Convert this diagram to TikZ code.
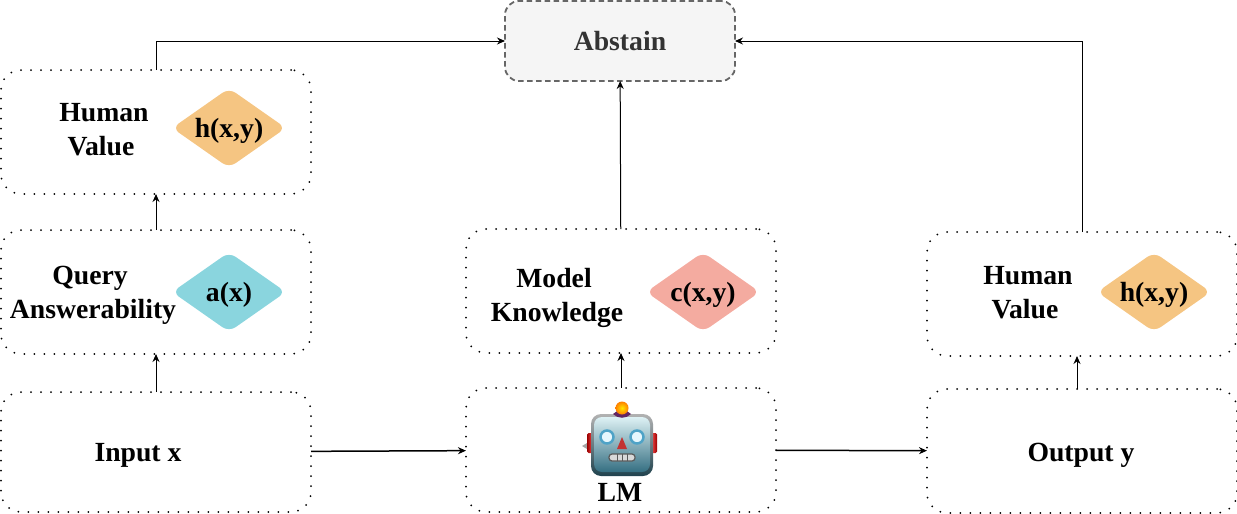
\documentclass[tikz,border=0pt]{standalone}
\usepackage{fontspec}
\setmainfont{Liberation Serif}
\usepackage{tikz}
\usetikzlibrary{positioning,shapes.geometric,arrows.meta}
\definecolor{valuecol}{HTML}{F5C582}
\definecolor{answercol}{HTML}{8AD5DE}
\definecolor{knowcol}{HTML}{F4ABA0}
\definecolor{eyecol}{HTML}{4FA3C7}
\definecolor{headtop}{HTML}{DDF1F4}
\definecolor{headmid}{HTML}{8FB5BC}
\definecolor{headlow}{HTML}{356F82}
\tikzset{%
	block/.style    = {draw, rectangle, rounded corners=20pt, line width=2pt,
		dash pattern=on 0pt off 10pt, line cap=round, outer sep=0pt,
		minimum height = 124pt, minimum width = 310pt},
	score/.style    = {diamond, rounded corners=8pt, inner sep=0pt,
		minimum width = 114pt, minimum height = 80pt},
	abstain/.style  = {draw=black!60, fill=black!4, rectangle, rounded corners=14pt,
		line width=1.8pt, dash pattern=on 5.5pt off 3.5pt, outer sep=0pt, text=black!80,
		minimum height = 80pt, minimum width = 230pt},
	robot/.pic      = {
		% ears, then the head in two layers, then the face
		\path[fill=black!35] (-40,1) -- (-35,-2) -- (-35,4) -- cycle;
		\path[left color=red!60!black, right color=red!70!white, rounded corners=1.5pt] (-35,-12) rectangle (-29,8);
		\path[right color=red!60!black, left color=red!70!white, rounded corners=1.5pt] (29,-12) rectangle (35,8);
		\path[top color=black!30, bottom color=headlow!60!black, rounded corners=10pt] (-31,-31) rectangle (31,31);
		\path[top color=headtop, middle color=headmid, bottom color=headlow, rounded corners=8pt] (-28,-28) rectangle (28,27);
		\path[fill=violet!55!black!85!white] (-9,-31) .. controls (-5,-36) and (5,-36) .. (9,-31) .. controls (4,-26) and (-4,-26) .. cycle;
		\shade[inner color=yellow!80!orange, outer color=orange] (0,-37) circle (6.5);
		\foreach \ex in {-15,15}{
			\draw[line width=2.5pt, draw=eyecol, fill=white!90!cyan] (\ex,-8) circle (6.5);
		}
		\path[fill=red!70!black!80!white] (0,-8) -- (5,4) -- (-5,4) -- cycle;
		\draw[line width=1.2pt, draw=black!65, fill=white!85!black, rounded corners=3pt] (-13,9) rectangle (13,16);
		\foreach \mx in {-5,0,5}{
			\draw[line width=.7pt, black!65] (\mx,9) -- (\mx,16);
		}
	}
}

\begin{document}
\begin{tikzpicture}[x=1pt, y=-1pt,
          >={Stealth[length=8pt,width=7pt]},
          line width=1pt,
          font=\fontsize{27.7}{34}\selectfont\bfseries]
        \useasboundingbox (0,0) rectangle (1237,514);
        \draw
        	node at (156,452) [block, minimum height=120pt, name=input] {}
        	node [block, above=38pt of input] (query) {}
        	node [block, above=36pt of query] (valuel) {}
        	node at (621,450) [block, name=lm] {}
        	node [block, above=35pt of lm] (model) {}
        	node at (1082,451) [block, name=output] {}
        	node [block, above=33pt of output] (valuer) {}
        	node at (620,41) [abstain, name=abst] {Abstain};

        % labels on the left of each box, scores on the right
        \node at (104,130) [align=center] (valuelt) {Human\\Value\kern6pt};
        \node at (229,128) [score, fill=valuecol] (hl) {};
        \node at ([yshift=-3pt]hl) (hlt) {h(x,y)};
        \node at (93,295) [align=center] (queryt) {Query\kern6pt\\Answerability};
        \node at (229,292) [score, fill=answercol] (ax) {};
        \node at ([yshift=-3pt]ax) (axt) {a(x)};
        \node at (557,298) [align=center] (modelt) {Model\kern6pt\\Knowledge};
        \node at (703,292) [score, fill=knowcol] (cxy) {};
        \node at ([yshift=-3pt]cxy) (cxyt) {c(x,y)};
        \node at (1028,293) [align=center] (valuert) {Human\\Value\kern6pt};
        \node at (1154,292) [score, fill=valuecol] (hr) {};
        \node at ([yshift=-3pt]hr) (hrt) {h(x,y)};
        \node at (138,455) (inputt) {Input x};
        \node at (1081,455) (outputt) {Output y};
        \node at (620,492) (lmt) {LM};
        \pic at (622,445) {robot};

        \draw[->, line width=1.5pt] (input) -- (lm);
        \draw[->, line width=1.5pt] (lm) -- (output);
        \draw[->] (input) -- (query);
        \draw[->] (query) -- (valuel);
        \draw[->] (lm) -- (model);
        \draw[->] (model) -- (abst);
        \draw[->] ([xshift=-5pt]output.north) -- ([xshift=-5pt]valuer.south);
        \draw[->] (valuel.north) |- (abst.west);
        \draw[->] (valuer.north) |- (abst.east);
\end{tikzpicture}
\end{document}
